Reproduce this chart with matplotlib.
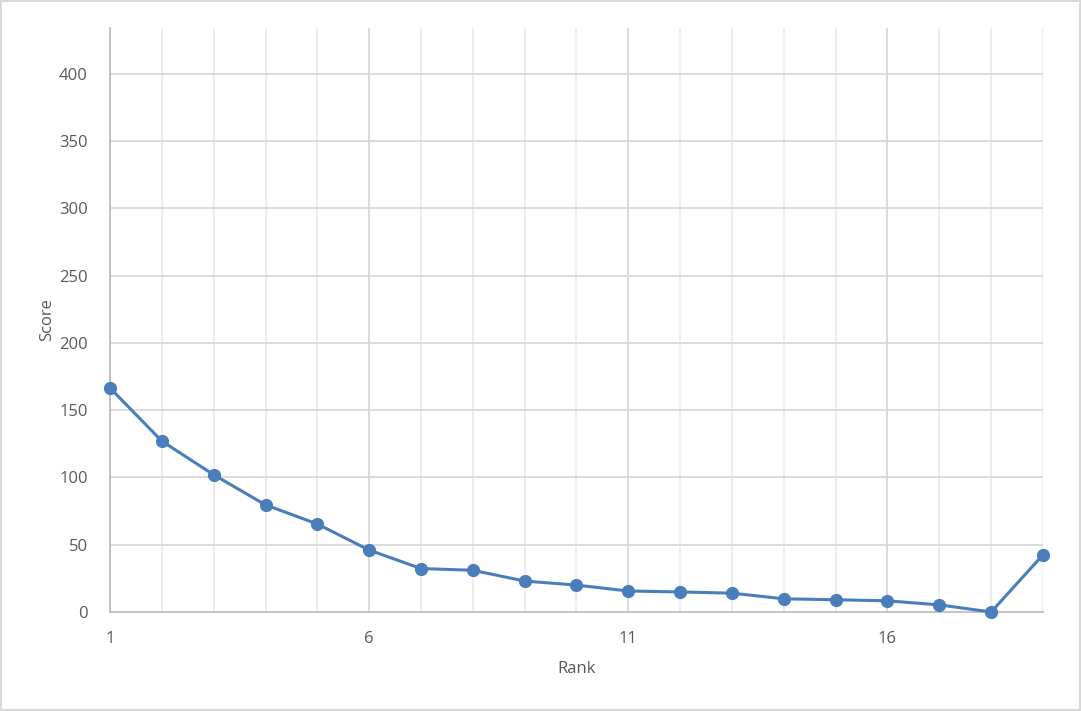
import numpy as np
import matplotlib.pyplot as plt
from matplotlib.patches import Rectangle

rank = list(range(1, 20))
score = [166.5, 127, 102, 79.6, 65.4, 46, 32.3, 31, 23, 20, 15.6, 14.9, 14, 9.8, 9.1, 8.3, 5.3, 0, 42.5]
major_ticks = [1, 6, 11, 16]
y_ticks = [0, 50, 100, 150, 200, 250, 300, 350, 400]

plt.rcParams['font.family'] = ['Open Sans', 'DejaVu Sans']

fig = plt.figure(figsize=(10.81, 7.11), dpi=100)
ax = fig.add_axes([110/1081, 1-612/711, 933/1081, 584/711])

# grid: light lines at every rank, darker at labelled ranks
for r in rank:
    c = '#d9d9d9' if r in major_ticks else '#ececec'
    ax.axvline(r, color=c, lw=1.3, zorder=0)
for yv in y_ticks[1:]:
    ax.axhline(yv, color='#d9d9d9', lw=1.3, zorder=0)

ax.plot(rank, score, color='#4a7ebb', lw=2.2, marker='o', ms=8.5, zorder=3, clip_on=False)

ax.set_xlim(1, 19)
ax.set_ylim(0, 434)
ax.set_xticks(major_ticks)
ax.set_yticks(y_ticks)
ax.tick_params(length=0, labelsize=12, colors='#595959', pad=0)
ax.tick_params(axis='x', pad=14)
ax.tick_params(axis='y', pad=16)
for s in ['top', 'right']:
    ax.spines[s].set_visible(False)
for s in ['left', 'bottom']:
    ax.spines[s].set_color('#bfbfbf')
    ax.spines[s].set_linewidth(1.3)
ax.set_xlabel('Rank', fontsize=12, color='#595959', labelpad=10)
ax.set_ylabel('Score', fontsize=12, color='#595959', labelpad=3)

fig.patches.append(Rectangle((0.001, 0.001), 0.998, 0.997, transform=fig.transFigure,
                             fill=False, edgecolor='#d9d9d9', lw=1.5))

fig.savefig('out.png', dpi=100)
